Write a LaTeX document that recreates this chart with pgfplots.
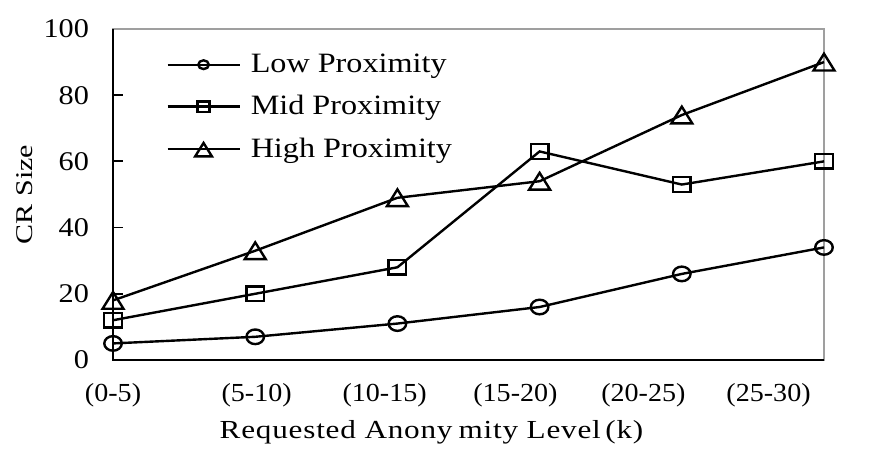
\documentclass[border=0pt]{standalone}
\usepackage{pgfplots}
\pgfplotsset{compat=1.18}
\usepackage{fontspec}
\setmainfont{Liberation Serif}
\newfontfamily\legfont{Liberation Serif}[FakeStretch=1.15]
\newfontfamily\xlabfont{Liberation Serif}[FakeStretch=1.2, LetterSpace=3]
\newfontfamily\ylabfont{Liberation Serif}[FakeStretch=1.25]
\newfontfamily\ytfont{Liberation Serif}[FakeStretch=1.12]
\newfontfamily\xtfont{Liberation Serif}[FakeStretch=1.08]

\begin{document}
\begin{tikzpicture}
\begin{axis}[
    scale only axis,
    width=355.5pt, height=165.5pt,
    xmin=0, xmax=5, ymin=0, ymax=100,
    clip=false,
    axis line style={draw=gray!75, line width=0.9pt},
    ytick={0,20,40,60,80,100},
    xtick={0,1.01,1.91,2.83,3.73,4.61},
    xticklabels={(0-5),(5-10),(10-15),(15-20),(20-25),(25-30)},
    xtick style={draw=none},
    ytick pos=left,
    tick align=inside,
    major tick length=5pt,
    ytick style={black, line width=0.9pt},
    /pgf/number format/assume math mode=true,
    yticklabel style={font=\fontsize{13.5}{15}\selectfont\ytfont, xshift=-8.5pt},
    xticklabel style={font=\fontsize{13}{15}\selectfont\xtfont, yshift=-8pt},
    xlabel={Requested Anony\kern3pt mity Level\kern-2pt\ (k)},
    ylabel={CR Size},
    xlabel style={font=\fontsize{13}{15}\selectfont\xlabfont, at={(rel axis cs:0.448,-0.2175)}, anchor=center},
    ylabel style={font=\fontsize{12}{15}\selectfont\ylabfont, at={(rel axis cs:-0.124,0.5)}, anchor=center},
    legend style={at={(rel axis cs:0.066,0.95)}, anchor=north west, draw=none, fill=none,
        font=\fontsize{14}{16}\selectfont\legfont, row sep=6pt,
        /tikz/every odd column/.append style={column sep=3pt}},
    legend cell align=left,
    legend image code/.code={\draw[mark repeat=2,mark phase=2,#1]
        plot coordinates {(0pt,0pt) (18pt,0pt) (36pt,0pt)};},
    every axis plot/.append style={black, line width=1.2pt},
]
\addplot[mark=o, mark size=3.65pt, mark options={xscale=1.2, solid},
    legend image post style={every mark/.append style={scale=0.6}}]
    coordinates {(0,5) (1,7) (2,11) (3,16) (4,26) (5,34)};
\addlegendentry{Low Proximity}
\addplot[mark=square, mark size=3.65pt, mark options={xscale=1.2, solid},
    legend image post style={every mark/.append style={scale=0.7}}]
    coordinates {(0,12) (1,20) (2,28) (3,63) (4,53) (5,60)};
\addlegendentry{Mid Proximity}
\addplot[mark=triangle, mark size=5.6pt, mark options={xscale=1.08, yshift=-1.4pt, solid},
    legend image post style={every mark/.append style={scale=0.8}}]
    coordinates {(0,18) (1,33) (2,49) (3,54) (4,74) (5,90)};
\addlegendentry{High Proximity}
\draw[black, line width=0.9pt] (rel axis cs:0,1) -- (rel axis cs:0,0) -- (rel axis cs:1,0);
\path (rel axis cs:-0.159,-0.317) rectangle (rel axis cs:1.0816,1.0876);
\end{axis}
\end{tikzpicture}
\end{document}
